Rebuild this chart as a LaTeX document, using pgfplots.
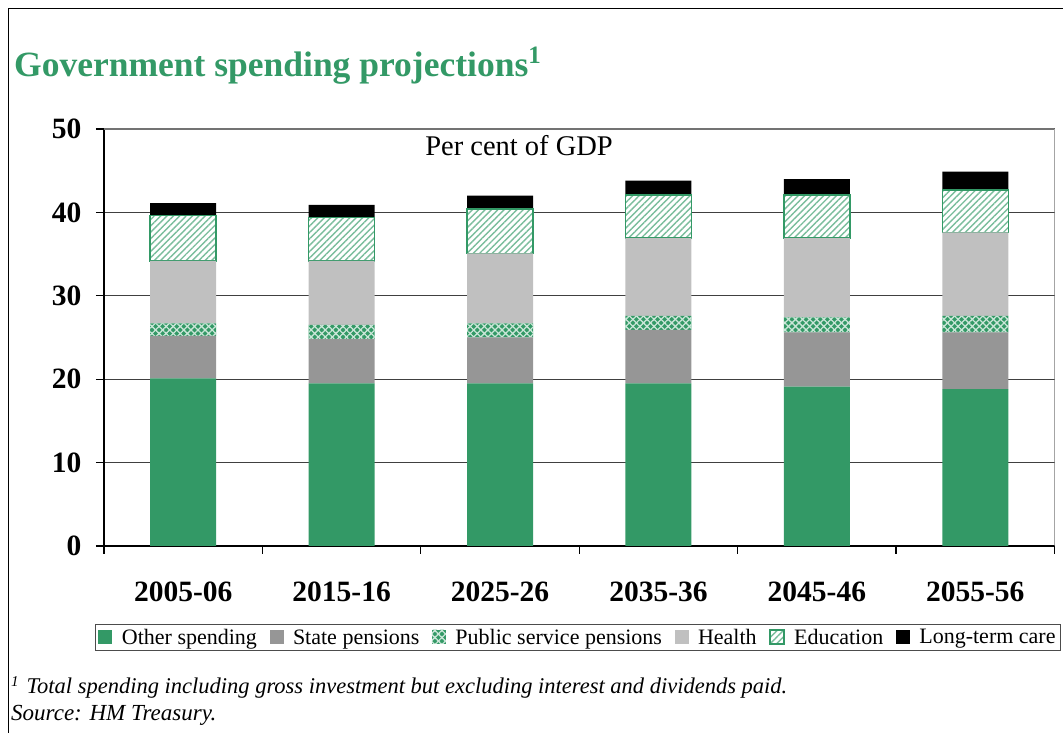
\documentclass[border=0pt]{standalone}
\usepackage{fontspec}
\setmainfont{Liberation Serif}
\usepackage{pgfplots}
\pgfplotsset{compat=1.18}
\usetikzlibrary{patterns.meta}
\definecolor{spgreen}{HTML}{339966}
\definecolor{spgray}{HTML}{969696}
\definecolor{splight}{HTML}{C0C0C0}
\begin{document}
\begin{tikzpicture}[x=1pt,y=1pt]
\path[use as bounding box] (0,0) rectangle (1063,733);
\draw[line width=1.6pt] (8.5,0) -- (8.5,724.5) -- (1063,724.5);
\node[anchor=base west, text=spgreen, font=\fontsize{35.5}{40}\selectfont\bfseries, inner sep=0pt] at (14,656) {Government spending projections\raisebox{13pt}{\fontsize{25}{30}\selectfont 1}};
\node[anchor=base west, font=\fontsize{22.5}{26}\selectfont\itshape, inner sep=0pt] at (11,39) {\raisebox{7pt}{\fontsize{15}{18}\selectfont 1}\hspace{8pt}Total spending including gross investment but excluding interest and dividends paid.};
\node[anchor=base west, font=\fontsize{23}{26}\selectfont\itshape, inner sep=0pt] at (11,12) {Source: HM Treasury.};
\begin{axis}[
  at={(104pt,187pt)}, anchor=south west,
  scale only axis, width=950.5pt, height=417pt,
  ybar stacked, bar width=66pt,
  xmin=-0.5, xmax=5.5, ymin=0, ymax=50,
  axis x line*=bottom, axis y line*=left,
  axis line style={black, line width=1.2pt},
  tick align=outside,
  ytick={0,10,...,50},
  xtick={0,...,5},
  xticklabels={2005-06,2015-16,2025-26,2035-36,2045-46,2055-56},
  minor xtick={-0.5,0.5,...,5.5},
  major tick length=8pt, minor tick length=8pt,
  major x tick style={draw=none},
  tick style={black, line width=1.2pt},
  ymajorgrids, grid style={black!75, line width=1pt},
  ticklabel style={font=\fontsize{29.5}{34}\selectfont\bfseries},
  /pgf/number format/assume math mode=true,
  yticklabel style={xshift=-11pt},
  xticklabel style={anchor=base, yshift=-48pt},
  legend style={at={(0.4987,-0.2194)}, anchor=center, draw=black!70, line width=1pt,
    font=\fontsize{22}{26}\selectfont, inner sep=3pt,
    /tikz/every odd column/.append style={column sep=7.5pt},
    /tikz/every even column/.append style={column sep=10.5pt}},
  legend columns=6, legend cell align=left,
  legend image code/.code={\path[#1] (0pt,-6.5pt) rectangle (14pt,7.5pt);},
]
\addplot[fill=spgreen, draw=none] coordinates {(0,20.1) (1,19.5) (2,19.5) (3,19.5) (4,19.1) (5,18.8)};
\addplot[fill=spgray, draw=none] coordinates {(0,5.1) (1,5.3) (2,5.5) (3,6.4) (4,6.5) (5,6.8)};
\addplot[fill=spgreen, draw=none,
  postaction={pattern={Lines[angle=45,distance=5pt,line width=1.3pt]}, pattern color=white!75!spgreen},
  postaction={pattern={Lines[angle=-45,distance=5pt,line width=1.3pt]}, pattern color=white!75!spgreen}]
  coordinates {(0,1.5) (1,1.7) (2,1.7) (3,1.7) (4,1.8) (5,2.0)};
\addplot[fill=splight, draw=none] coordinates {(0,7.5) (1,7.7) (2,8.4) (3,9.3) (4,9.5) (5,10.0)};
\addplot[fill=white, draw=spgreen, line width=1.5pt,
  postaction={pattern={Lines[angle=45,distance=4.5pt,line width=1.4pt]}, pattern color=spgreen!65}]
  coordinates {(0,5.4) (1,5.2) (2,5.3) (3,5.2) (4,5.2) (5,5.1)};
\addplot[fill=black, draw=none] coordinates {(0,1.5) (1,1.5) (2,1.6) (3,1.7) (4,1.9) (5,2.2)};
\legend{Other spending, State pensions, Public service pensions, Health, Education, Long-term care}
\draw[black!55, line width=1.2pt] (rel axis cs:0,1) -- (rel axis cs:1,1) -- (rel axis cs:1,0);
\node[anchor=base, font=\fontsize{28.5}{32}\selectfont, inner sep=0pt] at (axis cs:2.12,46.8) {Per cent of GDP};
\end{axis}
\end{tikzpicture}
\end{document}
